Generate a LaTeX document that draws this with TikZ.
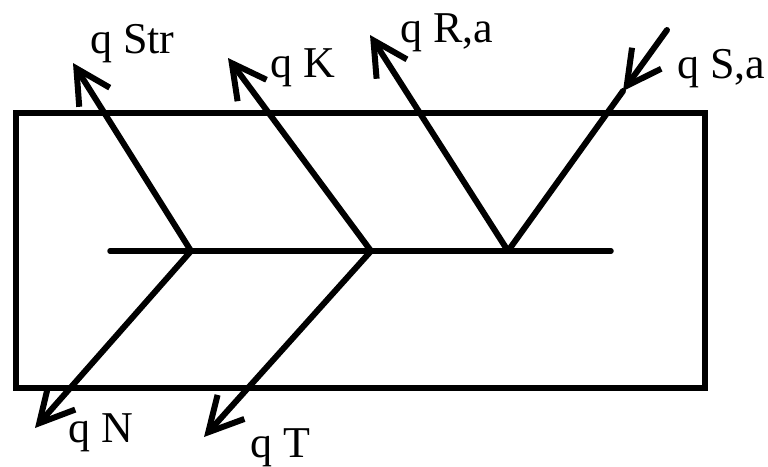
\documentclass[tikz,border=0pt]{standalone}
\usepackage{fontspec}
\setmainfont{Liberation Serif}
\usetikzlibrary{arrows.meta}
\begin{document}
\begin{tikzpicture}[x=1pt,y=-1pt,
  wire/.style={line width=6pt,line cap=round,line join=round},
  flow/.style={wire,-{Straight Barb[length=34pt,width=36pt]}},
  lbl/.style={inner sep=0pt,anchor=base west,font=\fontsize{44}{50}\selectfont}]
\useasboundingbox (0,0) rectangle (768,466);
% box
\draw[line width=6.5pt] (16,113) rectangle (705,388);
% axis line
\coordinate (L) at (110,251);
\coordinate (R) at (611,251);
\draw[wire,line width=5.5pt] (L) -- (R);
% vertices
\coordinate (v1) at (191,251);
\coordinate (v2) at (371,251);
\coordinate (v3) at (508,251);
% arrow ends
\coordinate (tStr) at (73,63);
\coordinate (tK) at (228,58);
\coordinate (tR) at (370,35);
\coordinate (sS) at (667,30);
\coordinate (mS) at (623,91);
\coordinate (tN) at (35,428);
\coordinate (tT) at (204,437);
\draw[flow] (v1) -- (tStr);
\draw[flow] (v2) -- (tK);
\draw[flow] (v3) -- (tR);
\draw[wire] (mS) -- (v3);
\draw[flow] (sS) -- (mS);
\draw[flow] (v1) -- (tN);
\draw[flow] (v2) -- (tT);
% labels
\node[lbl] (lStr) at (90,53) {q Str};
\node[lbl] (lK) at (270,77) {q K};
\node[lbl] (lR) at (400,42) {q R,a};
\node[lbl] (lS) at (677,78) {q S,a};
\node[lbl] (lN) at (68,442) {q N};
\node[lbl] (lT) at (250,457) {q T};
\end{tikzpicture}
\end{document}
